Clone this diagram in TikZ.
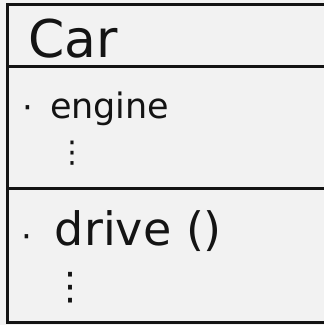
\documentclass[tikz,border=0pt]{standalone}
\usepackage{fontspec}
\setmainfont{DejaVu Sans}
\begin{document}
\begin{tikzpicture}[x=1pt,y=1pt,
  frame/.style={line width=3pt,draw=black!92},
  txt/.style={inner sep=0pt,outer sep=0pt,anchor=base west,text=black!92},
  vd/.style={inner sep=0pt,outer sep=0pt,text=black!92}]
\fill[black!5] (0,0) rectangle (324,325);
\useasboundingbox (0,0) rectangle (324,325);
% frame corners
\coordinate (tl) at (8,321);
\coordinate (tr) at (324,321);
\coordinate (bl) at (8,3);
\coordinate (br) at (324,3);
\coordinate (d1l) at (8,259);
\coordinate (d1r) at (324,259);
\coordinate (d2l) at (8,137);
\coordinate (d2r) at (324,137);
\draw[frame] (tr) -- (tl) -- (bl) -- (br);
\draw[frame] (d1l) -- (d1r);
\draw[frame] (d2l) -- (d2r);
% texts
\node[txt,font=\fontsize{52}{60}\selectfont] (car) at (28,267) {Car};
\node[txt,font=\fontsize{34}{40}\selectfont] (dot1) at (23,205) {·};
\node[txt,font=\fontsize{35}{42}\selectfont] (engine) at (50,207) {engine};
\node[vd,font=\fontsize{30}{36}\selectfont] (vd1) at (73,172) {⋮};
\node[txt,font=\fontsize{34}{40}\selectfont] (dot2) at (22,77) {·};
\node[txt,font=\fontsize{46}{54}\selectfont] (drive) at (55,80) {drive ()};
\node[vd,font=\fontsize{38}{44}\selectfont] (vd2) at (71,37) {⋮};
\end{tikzpicture}
\end{document}
